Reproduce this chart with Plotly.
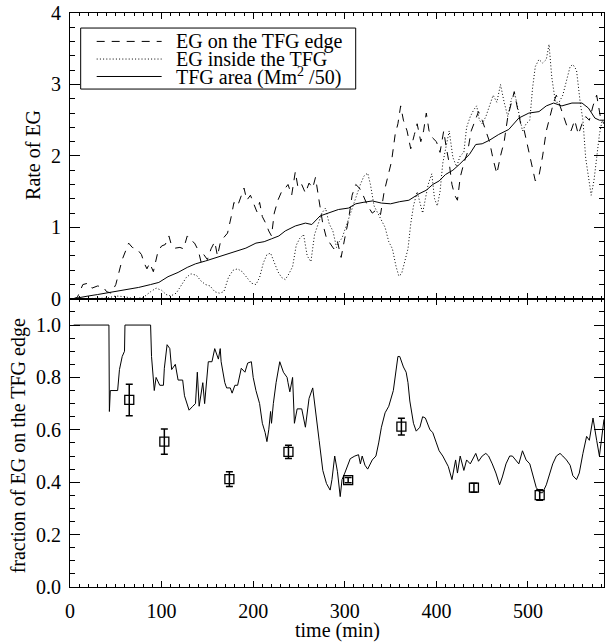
import plotly.graph_objects as go

# EG on the TFG edge (dashed)
t_edge = [3, 8, 14, 20, 24, 30, 36, 40, 45, 50,
          53, 57, 61, 64, 68, 73, 78, 81, 84, 87,
          91, 96, 100, 104, 108, 111, 115, 120, 124, 128,
          132, 136, 140, 143, 146, 150, 154, 158, 161, 164,
          168, 172, 176, 179, 183, 187, 190, 193, 197, 200,
          204, 207, 210, 214, 217, 220, 223, 227, 231, 235,
          238, 242, 246, 249, 253, 257, 261, 265, 268, 272,
          276, 280, 284, 288, 292, 296, 300, 304, 308, 312,
          316, 320, 325, 330, 335, 339, 343, 347, 351, 355,
          358, 361, 364, 368, 372, 376, 379, 383, 386, 389,
          392, 396, 400, 404, 408, 411, 414, 417, 420, 423,
          426, 430, 434, 438, 442, 446, 450, 454, 458, 462,
          466, 470, 474, 478, 482, 485, 488, 492, 496, 500,
          504, 508, 512, 516, 520, 524, 528, 531, 535, 539,
          543, 547, 551, 555, 559, 563, 567, 571, 575, 579,
          583]
edge_rate = [0, 0.02, 0.2, 0.22, 0.15, 0.18, 0.17, 0.1, 0.08, 0.2,
             0.35, 0.55, 0.68, 0.78, 0.72, 0.7, 0.62, 0.5, 0.42, 0.5,
             0.38, 0.66, 0.74, 0.76, 0.88, 0.74, 0.71, 0.72, 0.7, 0.88,
             0.82, 0.78, 0.68, 0.52, 0.62, 0.55, 0.7, 0.8, 0.6, 0.78,
             0.86, 0.92, 1.15, 1.35, 1.3, 1.45, 1.55, 1.38, 1.45, 1.35,
             1.22, 1.35, 1.15, 1.05, 0.95, 0.88, 1.2, 1.38, 1.5, 1.55,
             1.6, 1.45, 1.78, 1.55, 1.6, 1.48, 1.62, 1.55, 1.7, 1.37,
             1.05, 0.85, 0.78, 0.7, 0.8, 0.58, 0.85, 1.1, 1.45, 1.6,
             1.55, 1.45, 1.3, 1.2, 1.25, 1.18, 1.5, 1.7, 1.92, 2.3,
             2.45, 2.7, 2.5, 2.35, 2.1, 2.3, 2.45, 2.2, 2.35, 2.6,
             2.35, 2.25, 2.2, 2.05, 2.35, 2.1, 1.9, 1.6, 1.45, 1.38,
             1.7, 1.9, 2.05, 2.35, 2.5, 2.62, 2.5, 2.35, 2.2, 1.95,
             1.75, 2.0, 2.2, 2.55, 2.75, 2.9, 2.7, 2.45, 2.35, 2.1,
             1.85, 1.65, 1.72, 2.0, 2.35, 2.55, 2.75, 2.85, 2.7, 2.55,
             2.4, 2.35, 2.5, 2.3, 2.45, 2.55, 2.5, 2.7, 2.85, 2.55,
             2.45]

# EG inside the TFG (dotted)
t_inside = [3, 20, 40, 50, 60, 70, 80, 88, 94, 100,
            105, 110, 116, 122, 127, 132, 138, 143, 148, 153,
            158, 163, 168, 173, 178, 183, 188, 193, 198, 203,
            207, 211, 215, 219, 223, 227, 231, 235, 239, 243,
            247, 251, 255, 259, 263, 267, 271, 275, 279, 283,
            287, 291, 294, 297, 301, 305, 309, 313, 317, 321,
            325, 328, 332, 336, 340, 344, 348, 352, 356, 359,
            362, 365, 369, 372, 375, 379, 382, 385, 388, 391,
            395, 398, 401, 404, 407, 410, 414, 418, 422, 426,
            430, 433, 437, 441, 444, 447, 450, 454, 458, 462,
            466, 470, 474, 478, 482, 486, 490, 494, 498, 502,
            505, 508, 512, 516, 520, 523, 526, 530, 534, 538,
            542, 546, 549, 553, 557, 560, 563, 566, 569, 572,
            575, 578, 581, 583]
inside_rate = [0, 0, 0.01, 0.04, 0.03, 0.0, 0.02, 0.1, 0.15, 0.12,
               0.06, 0.04, 0.08, 0.2, 0.3, 0.35, 0.33, 0.25, 0.2, 0.18,
               0.1, 0.08, 0.1, 0.3, 0.4, 0.42, 0.38, 0.3, 0.22, 0.2,
               0.3, 0.5, 0.62, 0.64, 0.5, 0.38, 0.3, 0.27, 0.35, 0.45,
               0.75, 0.85, 0.9, 0.6, 0.52, 0.9, 1.05, 1.2, 1.27, 1.05,
               0.95, 0.72, 0.8, 0.85, 1.0, 1.15, 1.32, 1.45, 1.6, 1.72,
               1.76, 1.6, 1.3, 1.2, 1.1, 1.0, 0.8, 0.7, 0.45, 0.32,
               0.35, 0.5, 0.7, 1.05, 1.3, 1.5, 1.35, 1.2, 1.4, 1.6,
               1.75, 1.4, 1.3, 1.5, 1.9, 2.1, 2.35, 1.98, 1.85, 2.0,
               2.05, 2.4, 2.55, 2.65, 2.7, 2.5, 2.45, 2.55, 2.7, 2.85,
               2.75, 3.0, 2.75, 2.55, 2.8, 2.85, 2.6, 2.35, 2.45, 2.5,
               2.95, 3.25, 3.35, 3.3, 3.35, 3.56, 3.1, 2.75, 2.75, 2.85,
               3.05, 3.25, 3.28, 3.2, 2.75, 2.5, 1.97, 1.7, 1.45, 1.65,
               2.0, 2.3, 2.5, 2.45]

# TFG area (Mm^2 / 50), solid
t_area = [3, 10, 20, 30, 45, 60, 75, 88, 97, 107,
          118, 128, 137, 148, 160, 170, 181, 192, 203, 212,
          220, 228, 235, 246, 257, 264, 273, 282, 293, 304,
          312, 320, 330, 340, 350, 360, 370, 381, 389, 396,
          403, 410, 418, 425, 436, 443, 450, 458, 468, 479,
          490, 501, 512, 520, 528, 537, 548, 559, 566, 573,
          578, 583]
area = [0, 0.02, 0.04, 0.06, 0.09, 0.12, 0.16, 0.2, 0.23, 0.31,
        0.37, 0.44, 0.49, 0.53, 0.58, 0.62, 0.66, 0.71, 0.78, 0.8,
        0.84, 0.88, 0.95, 1.02, 1.06, 1.04, 1.16, 1.2, 1.25, 1.27,
        1.33, 1.35, 1.37, 1.34, 1.33, 1.36, 1.38, 1.47, 1.52, 1.6,
        1.65, 1.74, 1.8, 1.88, 2.02, 2.16, 2.17, 2.22, 2.3, 2.37,
        2.53, 2.6, 2.62, 2.7, 2.74, 2.7, 2.74, 2.74, 2.67, 2.53,
        2.5, 2.5]

# fraction of EG on the TFG edge
t_frac = [4, 42.5, 43, 44, 52, 54, 57, 59.5, 60, 88,
          89, 92, 94, 98, 102, 103, 106, 109, 111, 115,
          118, 123, 125, 130, 134, 137, 139, 141, 145, 147,
          151, 155, 158, 162, 164, 165, 169, 171, 175, 177,
          180, 183, 187, 191, 194, 198, 200, 203, 207, 210,
          213, 215, 217, 219, 220, 222, 225, 229, 233, 237,
          238, 240, 243, 245, 248, 253, 257, 261, 265, 268,
          272, 276, 280, 284, 286, 289, 292, 295, 297, 300,
          303, 306, 311, 315, 317, 319, 322, 325, 330, 334,
          337, 340, 344, 348, 353, 356, 358, 360, 364, 367,
          369, 371, 375, 378, 382, 385, 388, 393, 396, 400,
          403, 407, 413, 417, 421, 423, 426, 430, 433, 437,
          441, 443, 446, 450, 454, 457, 461, 465, 469, 472,
          476, 480, 483, 487, 490, 494, 498, 502, 505, 509,
          513, 516, 520, 524, 527, 531, 535, 538, 542, 546,
          549, 553, 556, 560, 564, 567, 571, 575, 578, 583]
frac = [1.0, 1.0, 0.67, 0.75, 0.75, 0.83, 0.88, 0.9, 1.0, 1.0,
        0.88, 0.75, 0.8, 0.77, 0.77, 0.835, 0.925, 0.91, 0.83, 0.85,
        0.79, 0.79, 0.73, 0.675, 0.69, 0.7, 0.82, 0.69, 0.78, 0.7,
        0.86, 0.86, 0.91, 0.87, 0.91, 0.86, 0.78, 0.76, 0.76, 0.74,
        0.77, 0.77, 0.835, 0.82, 0.855, 0.86, 0.8, 0.75, 0.7, 0.625,
        0.59, 0.555, 0.6, 0.67, 0.625, 0.7, 0.78, 0.86, 0.82, 0.8,
        0.78, 0.745, 0.8, 0.625, 0.68, 0.68, 0.61, 0.72, 0.76, 0.68,
        0.56, 0.445, 0.395, 0.37, 0.41, 0.5, 0.44, 0.345, 0.41, 0.435,
        0.46, 0.49, 0.5, 0.505, 0.47, 0.5, 0.465, 0.45, 0.485, 0.5,
        0.55, 0.61, 0.665, 0.69, 0.75, 0.82, 0.88, 0.88, 0.84, 0.82,
        0.78, 0.71, 0.625, 0.595, 0.61, 0.65, 0.645, 0.6, 0.59, 0.55,
        0.52, 0.5, 0.46, 0.41, 0.485, 0.435, 0.5, 0.445, 0.485, 0.47,
        0.5, 0.51, 0.48, 0.5, 0.51, 0.5, 0.47, 0.435, 0.39, 0.42,
        0.47, 0.5, 0.5, 0.485, 0.47, 0.52, 0.485, 0.47, 0.435, 0.38,
        0.36, 0.36, 0.39, 0.435, 0.47, 0.5, 0.51, 0.5, 0.485, 0.465,
        0.425, 0.41, 0.435, 0.51, 0.575, 0.56, 0.645, 0.56, 0.5, 0.64]

# measured fractions with error bars
t_pts = [64.7, 103, 174, 238.5, 303.7, 361.8, 441, 512.8]
frac_pts = [0.714, 0.555, 0.412, 0.516, 0.408, 0.612, 0.379, 0.351]
err_pts = [0.06, 0.048, 0.028, 0.025, 0.01, 0.032, 0.017, 0.02]

legend_names = ["EG on the TFG edge", "EG inside the TFG", "TFG area (Mm<sup>2</sup> /50)"]

FONT = "Liberation Serif, Times New Roman, serif"
DASH = "8px,7px"
DOT = "1px,2.2px"

fig = go.Figure()
fig.add_trace(go.Scatter(x=t_edge, y=edge_rate, mode="lines", line=dict(color="black", width=1, dash=DASH),
                         xaxis="x", yaxis="y"))
fig.add_trace(go.Scatter(x=t_inside, y=inside_rate, mode="lines", line=dict(color="black", width=1, dash=DOT),
                         xaxis="x", yaxis="y"))
fig.add_trace(go.Scatter(x=t_area, y=area, mode="lines", line=dict(color="black", width=1),
                         xaxis="x", yaxis="y"))
fig.add_trace(go.Scatter(x=t_frac, y=frac, mode="lines", line=dict(color="black", width=1),
                         xaxis="x2", yaxis="y2"))
fig.add_trace(go.Scatter(x=t_pts, y=frac_pts, mode="markers",
                         marker=dict(symbol="square-open", size=9, color="black", line=dict(width=1.3)),
                         error_y=dict(type="data", array=err_pts, color="black", thickness=1.5, width=3.5),
                         xaxis="x2", yaxis="y2"))

xcommon = dict(range=[0, 583], showline=True, linecolor="black", linewidth=1, mirror="allticks",
               ticks="inside", ticklen=6, tickwidth=1, tickcolor="black", dtick=100, tick0=0,
               minor=dict(dtick=10, ticklen=3, ticks="inside", tickcolor="black", tickwidth=1),
               showgrid=False, zeroline=False)
ycommon = dict(showline=True, linecolor="black", linewidth=1, mirror="allticks",
               ticks="inside", ticklen=10, tickwidth=1, tickcolor="black",
               showgrid=False, zeroline=False, ticklabelstandoff=4)

fig.update_layout(
    width=606, height=642,
    margin=dict(l=70, r=2, t=13, b=55),
    plot_bgcolor="white", paper_bgcolor="white",
    font=dict(family=FONT, size=20, color="black"),
    showlegend=False,
    xaxis=dict(xcommon, anchor="y", showticklabels=False),
    yaxis=dict(ycommon, domain=[0.502, 1], range=[0, 4], dtick=1,
               minor=dict(dtick=0.2, ticklen=5, ticks="inside", tickcolor="black", tickwidth=1)),
    xaxis2=dict(xcommon, anchor="y2", matches="x", ticklabelstandoff=6),
    yaxis2=dict(ycommon, domain=[0, 0.502], range=[0, 1.1], dtick=0.2, tickformat=".1f",
                minor=dict(dtick=0.05, ticklen=5, ticks="inside", tickcolor="black", tickwidth=1)),
)

# axis titles
fig.add_annotation(text="Rate of EG", xref="paper", yref="paper", x=-0.069, y=0.753,
                   textangle=-90, showarrow=False, xanchor="center", yanchor="middle")
fig.add_annotation(text="fraction of EG on the TFG edge", xref="paper", yref="paper", x=-0.097, y=0.2454,
                   textangle=-90, showarrow=False, xanchor="center", yanchor="middle")
fig.add_annotation(text="time (min)", xref="paper", yref="paper", x=0.5, y=-0.0755,
                   showarrow=False, xanchor="center", yanchor="middle")

# legend box drawn by hand
fig.add_shape(type="rect", xref="paper", yref="paper", x0=0.020, x1=0.535, y0=0.8675, y1=0.9738,
              line=dict(color="black", width=1), fillcolor="white", layer="above")
rows_y = [0.9505, 0.9198, 0.8894]
dashes = [DASH, DOT, "solid"]
for name, yy, dsh in zip(legend_names, rows_y, dashes):
    fig.add_shape(type="line", xref="paper", yref="paper", x0=0.050, x1=0.1716, y0=yy, y1=yy,
                  line=dict(color="black", width=1, dash=dsh), layer="above")
    fig.add_annotation(text=name, xref="paper", yref="paper", x=0.1946, y=yy,
                       showarrow=False, xanchor="left", yanchor="middle", font=dict(size=20))

# drop the default 8px page margin so the figure fills the window
fig.write_html("out.html", config={"displayModeBar": False},
               post_script="document.body.style.margin='0';"
                           "document.documentElement.style.overflow='hidden';")
